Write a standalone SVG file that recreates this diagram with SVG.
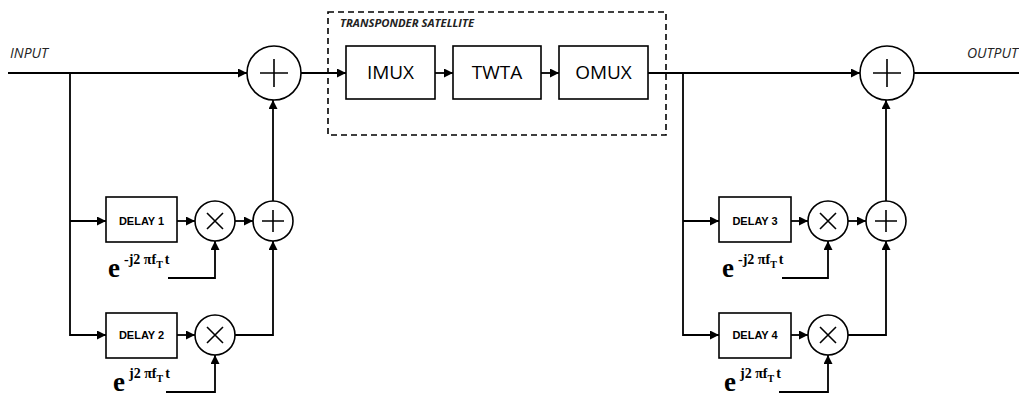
<svg xmlns="http://www.w3.org/2000/svg" width="1019" height="396" viewBox="0 0 1019 396">
<style>
.box{fill:#fff;stroke:#000;stroke-width:1.6}
.circ{fill:#fff;stroke:#000;stroke-width:1.6}
.sym{stroke:#000;stroke-width:1.6;fill:none}
.wire{fill:none;stroke:#000;stroke-width:1.8}
.big{font-family:"Open Sans","Liberation Sans",sans-serif;font-size:19px;text-anchor:middle}
.dly{font-family:"Liberation Sans",Arial,sans-serif;font-size:11px;font-weight:bold;text-anchor:middle}
.lbl{font-family:"Open Sans","Liberation Sans",sans-serif;font-size:14px;font-style:italic;fill:#222}
.e{font-family:"Liberation Serif","Times New Roman",serif;font-weight:bold;font-size:27px}
.sup{font-family:"Liberation Serif","Times New Roman",serif;font-weight:bold;font-size:14px}
.sub{font-family:"Liberation Serif","Times New Roman",serif;font-weight:bold;font-size:10px}
</style>
<defs>
<marker id="ah" markerUnits="userSpaceOnUse" markerWidth="9" markerHeight="9" refX="9" refY="4.5" orient="auto">
<path d="M0,0 L9,4.5 L0,9 z" fill="#000"/>
</marker>
</defs>
<rect width="1019" height="396" fill="#fff"/>

<g id="connectors" class="wire">
<path d="M8,73 H247" marker-end="url(#ah)"/>
<path d="M70,73 V335 H106" marker-end="url(#ah)"/>
<path d="M70,221 H106" marker-end="url(#ah)"/>
<path d="M177,221 H195" marker-end="url(#ah)"/>
<path d="M235,221 H253" marker-end="url(#ah)"/>
<path d="M273,201 V100" marker-end="url(#ah)"/>
<path d="M168,278 H215 V241" marker-end="url(#ah)"/>
<path d="M177,335 H195" marker-end="url(#ah)"/>
<path d="M235,335 H273 V241" marker-end="url(#ah)"/>
<path d="M166,392 H215 V355" marker-end="url(#ah)"/>
<path d="M301,73 H346" marker-end="url(#ah)"/>
<path d="M435,73 H453" marker-end="url(#ah)"/>
<path d="M541,73 H559" marker-end="url(#ah)"/>
<path d="M648,73 H860" marker-end="url(#ah)"/>
<path d="M683,73 V335 H719" marker-end="url(#ah)"/>
<path d="M683,221 H719" marker-end="url(#ah)"/>
<path d="M791,221 H808" marker-end="url(#ah)"/>
<path d="M848,221 H866" marker-end="url(#ah)"/>
<path d="M886,201 V100" marker-end="url(#ah)"/>
<path d="M782,278 H828 V241" marker-end="url(#ah)"/>
<path d="M791,335 H808" marker-end="url(#ah)"/>
<path d="M848,335 H886 V241" marker-end="url(#ah)"/>
<path d="M779,392 H828 V355" marker-end="url(#ah)"/>
<path d="M914,73 H1019"/>
</g>

<g id="transponder">
<rect x="328" y="12" width="338" height="123" fill="none" stroke="#000" stroke-width="1.6" stroke-dasharray="6,4"/>
<text x="340" y="27" font-family="'Open Sans','Liberation Sans',sans-serif" font-size="10.5" font-weight="bold" font-style="italic" fill="#222" textLength="134" lengthAdjust="spacingAndGlyphs">TRANSPONDER SATELLITE</text>
</g>
<g id="imux"><rect class="box" x="346" y="46" width="89" height="53"/><text class="big" x="390.5" y="79">IMUX</text></g>
<g id="twta"><rect class="box" x="453" y="46" width="88" height="53"/><text class="big" x="497" y="79">TWTA</text></g>
<g id="omux"><rect class="box" x="559" y="46" width="89" height="53"/><text class="big" x="603.5" y="79">OMUX</text></g>

<g id="input-label"><text class="lbl" x="10" y="58">INPUT</text></g>
<g id="output-label"><text class="lbl" x="967" y="58">OUTPUT</text></g>

<g id="sum-left"><circle class="circ" cx="274" cy="73" r="27"/><path class="sym" d="M260,73 H288 M274,59 V87"/></g>
<g id="sum-right"><circle class="circ" cx="887" cy="73" r="27"/><path class="sym" d="M873,73 H901 M887,59 V87"/></g>

<g id="delay1"><rect class="box" x="106" y="197" width="71" height="45"/><text class="dly" x="141.5" y="225">DELAY 1</text></g>
<g id="delay2"><rect class="box" x="106" y="313" width="71" height="45"/><text class="dly" x="141.5" y="339">DELAY 2</text></g>
<g id="delay3"><rect class="box" x="719" y="197" width="72" height="45"/><text class="dly" x="755" y="225">DELAY 3</text></g>
<g id="delay4"><rect class="box" x="719" y="313" width="72" height="45"/><text class="dly" x="755" y="339">DELAY 4</text></g>

<g id="mult1"><circle class="circ" cx="215" cy="221" r="20"/><path class="sym" d="M207,213 L223,229 M223,213 L207,229"/></g>
<g id="mult2"><circle class="circ" cx="215" cy="335" r="20"/><path class="sym" d="M207,327 L223,343 M223,327 L207,343"/></g>
<g id="mult3"><circle class="circ" cx="828" cy="221" r="20"/><path class="sym" d="M820,213 L836,229 M836,213 L820,229"/></g>
<g id="mult4"><circle class="circ" cx="828" cy="335" r="20"/><path class="sym" d="M820,327 L836,343 M836,327 L820,343"/></g>

<g id="sum1"><circle class="circ" cx="273" cy="221" r="20"/><path class="sym" d="M262,221 H284 M273,210 V232"/></g>
<g id="sum3"><circle class="circ" cx="886" cy="221" r="20"/><path class="sym" d="M875,221 H897 M886,210 V232"/></g>

<g id="exp1"><text x="108" y="277"><tspan class="e">e</tspan><tspan class="sup" x="124" y="264">-j2 πf</tspan><tspan class="sub" dy="4">T</tspan><tspan class="sup" dx="2" dy="-4">t</tspan></text></g>
<g id="exp2"><text x="113" y="391"><tspan class="e">e</tspan><tspan class="sup" x="129" y="378">j2 πf</tspan><tspan class="sub" dy="4">T</tspan><tspan class="sup" dx="2" dy="-4">t</tspan></text></g>
<g id="exp3"><text x="722" y="277"><tspan class="e">e</tspan><tspan class="sup" x="738" y="264">-j2 πf</tspan><tspan class="sub" dy="4">T</tspan><tspan class="sup" dx="2" dy="-4">t</tspan></text></g>
<g id="exp4"><text x="724" y="391"><tspan class="e">e</tspan><tspan class="sup" x="740" y="378">j2 πf</tspan><tspan class="sub" dy="4">T</tspan><tspan class="sup" dx="2" dy="-4">t</tspan></text></g>
</svg>
